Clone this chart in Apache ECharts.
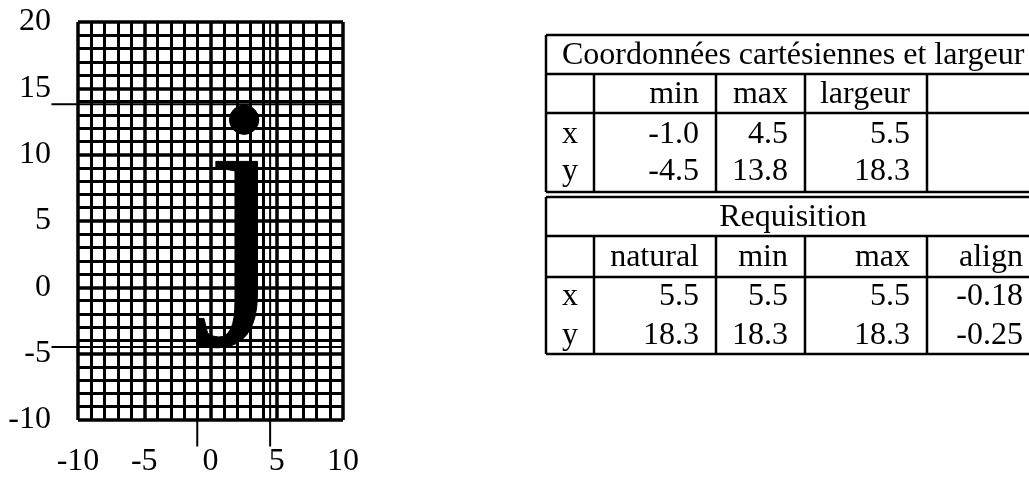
<!DOCTYPE html>
<html>
<head>
<meta charset="utf-8">
<script src="https://cdn.jsdelivr.net/npm/echarts@6/dist/echarts.min.js"></script>
<style>
  html, body { margin: 0; padding: 0; background: #fff; }
  #main { width: 1029px; height: 481px; }
</style>
</head>
<body>
<div id="main"></div>
<script>
// axes of the grid
var xRange = [-10, 10]
var yRange = [-10, 20]
var majorStep = 5

// glyph drawn on the grid
var glyph = "j"

// table 1: Coordonnées cartésiennes et largeur
var coordTitle = "Coordonnées cartésiennes et largeur"
var coordHeader = ["", "min", "max", "largeur", ""]
var coordRows = ["x", "y"]
var coordMin = [-1.0, -4.5]
var coordMax = [4.5, 13.8]
var coordLargeur = [5.5, 18.3]

// table 2: Requisition
var reqTitle = "Requisition"
var reqHeader = ["", "natural", "min", "max", "align"]
var reqRows = ["x", "y"]
var reqNatural = [5.5, 18.3]
var reqMin = [5.5, 18.3]
var reqMax = [5.5, 18.3]
var reqAlign = [-0.18, -0.25]

var FONT = "'Liberation Serif', 'DejaVu Serif', serif"
var FS = 32
var tickExt = 2 // how far the bbox lines run out past the grid

var chart = echarts.init(document.getElementById("main"))

var axisCommon = {
  type: "value",
  interval: majorStep,
  axisLine: { show: false },
  axisTick: { show: false },
  axisLabel: { color: "#000", fontFamily: FONT, fontSize: FS },
  splitLine: { show: true, lineStyle: { color: "#000", width: 3.5 } },
  minorTick: { show: false, splitNumber: 5 },
  minorSplitLine: { show: true, lineStyle: { color: "#000", width: 3 } }
}

var bx0 = coordMin[0], bx1 = coordMax[0]
var by0 = coordMin[1], by1 = coordMax[1]

var option = {
  backgroundColor: "#fff",
  animation: false,
  grid: { left: 78, right: 686, top: 22, bottom: 61 },
  xAxis: Object.assign({}, axisCommon, {
    min: xRange[0], max: xRange[1],
    axisLabel: Object.assign({}, axisCommon.axisLabel, { margin: 26 })
  }),
  yAxis: Object.assign({}, axisCommon, {
    min: yRange[0], max: yRange[1],
    axisLabel: Object.assign({}, axisCommon.axisLabel, { margin: 27, padding: [6, 0, 0, 0] })
  }),
  series: []
}
chart.setOption(option)

function px(x, y) {
  return chart.convertToPixel({ gridIndex: 0 }, [x, y])
}

var graphics = []
function segment(a, b, w, z) {
  graphics.push({ type: "line", z: z,
    shape: { x1: a[0], y1: a[1], x2: b[0], y2: b[1] },
    style: { stroke: "#000", lineWidth: w } })
}

// bounding box lines of the glyph, placed through the axes
segment(px(xRange[0] - tickExt, by1), px(xRange[1], by1), 2, 5)
segment(px(xRange[0] - tickExt, by0), px(xRange[1], by0), 2, 5)
segment(px(bx0, yRange[1]), px(bx0, yRange[0] - tickExt), 2, 5)
segment(px(bx1, yRange[1]), px(bx1, yRange[0] - tickExt), 2, 5)

// ---- glyph fitted to the bbox height via measured ink extents ----
var ctx = document.createElement("canvas").getContext("2d")
var refSize = 200
ctx.font = refSize + "px " + FONT
ctx.textBaseline = "middle"
ctx.textAlign = "left"
var m = ctx.measureText(glyph)
var pTL = px(bx0, by1)
var pBR = px(bx1, by0)
var scale = (pBR[1] - pTL[1]) / (m.actualBoundingBoxAscent + m.actualBoundingBoxDescent)
var glyphSize = refSize * scale

graphics.push({
  type: "text",
  x: pTL[0] + m.actualBoundingBoxLeft * scale,
  y: pTL[1] + m.actualBoundingBoxAscent * scale,
  z: 10,
  style: {
    text: glyph,
    font: glyphSize + "px " + FONT,
    fill: "#000",
    stroke: "#000",
    lineWidth: 1,
    align: "left",
    verticalAlign: "middle"
  }
})

// ---- tables ----
var colX = [546, 594, 716, 805, 927, 1040]
var pad = 17
var t1Lines = [35, 74, 113, 192]
var t2Lines = [197, 236, 277, 354]
var midOff = 7 // alphabetic baseline -> middle
function fmt1(v) { return v.toFixed(1) }
function fmt2(v) { return v.toFixed(2) }

function hline(y, x0, x1) { segment([x0, y], [x1, y], 2.5, 20) }
function vline(x, y0, y1) { segment([x, y0], [x, y1], 2.5, 20) }
function txt(s, x, base, align) {
  graphics.push({ type: "text", x: x, y: base - midOff, z: 20,
    style: { text: s, font: FS + "px " + FONT, fill: "#000", align: align, verticalAlign: "middle" } })
}
function cellRight(col, s, base) { txt(s, colX[col + 1] - pad, base, "right") }

function drawTable(lines, title, titleCentered, header, rowNames, cols, bases) {
  var top = lines[0], bottom = lines[3]
  hline(top, colX[0], colX[5])
  hline(lines[1], colX[0], colX[5])
  hline(lines[2], colX[0], colX[5])
  hline(bottom, colX[0], colX[5])
  vline(colX[0], top, bottom)
  vline(colX[5], top, bottom)
  for (var c = 1; c < 5; c++) vline(colX[c], lines[1], bottom)
  if (titleCentered) txt(title, (colX[0] + colX[5]) / 2, bases[0], "center")
  else txt(title, colX[0] + 16, bases[0], "left")
  for (var h = 1; h < header.length; h++) if (header[h]) cellRight(h, header[h], bases[1])
  for (var r = 0; r < rowNames.length; r++) {
    txt(rowNames[r], colX[0] + 16, bases[2 + r], "left")
    for (var k = 0; k < cols.length; k++) cellRight(k + 1, cols[k][r], bases[2 + r])
  }
}

drawTable(t1Lines, coordTitle, false, coordHeader, coordRows,
  [coordMin.map(fmt1), coordMax.map(fmt1), coordLargeur.map(fmt1)],
  [63, 102, 142, 179])
drawTable(t2Lines, reqTitle, true, reqHeader, reqRows,
  [reqNatural.map(fmt1), reqMin.map(fmt1), reqMax.map(fmt1), reqAlign.map(fmt2)],
  [225, 265, 304, 343])

chart.setOption({ graphic: graphics })
</script>
</body>
</html>
